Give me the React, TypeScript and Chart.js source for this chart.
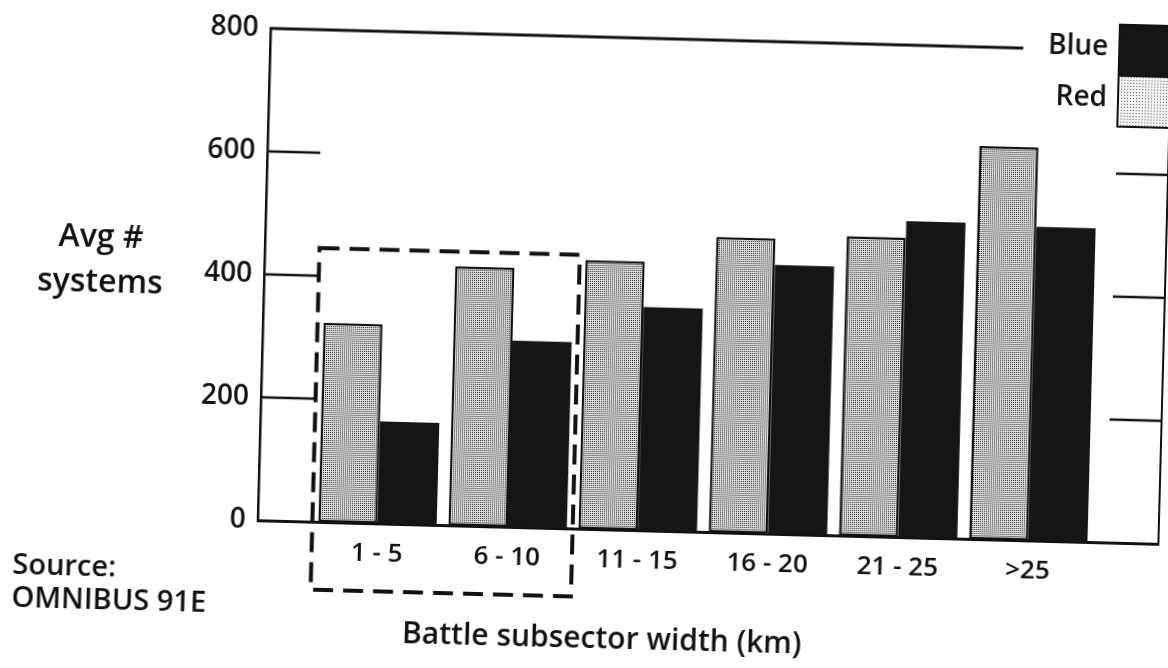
import React, { useEffect, useRef } from "react";
import { Chart, registerables } from "chart.js";

Chart.register(...registerables);

// ---- data ----
const categories = ["1 - 5", "6 - 10", "11 - 15", "16 - 20", "21 - 25", ">25"];
const redValues = [324, 421, 437, 480, 487, 639];
const blueValues = [166, 303, 363, 437, 514, 510];
const yTicks = [0, 200, 400, 600, 800];
const seriesNames = ["Red", "Blue"];
const highlightCategories = [0, 1]; // the dashed box around 1-5 and 6-10
const highlightTop = 445;

const FONT = "'Open Sans', 'Noto Sans', 'DejaVu Sans', sans-serif";
const WEIGHT = 600;
const INK = "#111111";
const W = 1168;
const H = 668;

function makeStipple(tile: number, bg: string, dot: string): CanvasPattern | string {
  const c = document.createElement("canvas");
  c.width = tile;
  c.height = tile;
  const g = c.getContext("2d");
  if (!g) return "#c4c4c4";
  g.fillStyle = bg;
  g.fillRect(0, 0, tile, tile);
  g.fillStyle = dot;
  g.fillRect(0, 0, 1, 1);
  return g.createPattern(c, "repeat") ?? "#c4c4c4";
}

const framePlugin = {
  id: "frame",
  afterDatasetsDraw(chart: any) {
    const { ctx, chartArea: a, scales } = chart;
    const x = scales.x;
    const y = scales.y;
    const topY = y.getPixelForValue(yTicks[yTicks.length - 1]);
    const legendLeft = a.right - 52;
    const legendTop = topY - 26;
    const rowH = 51;
    const legendBottom = legendTop + rowH * 2;

    ctx.save();
    ctx.strokeStyle = INK;
    ctx.lineCap = "butt";

    // top border (interrupted by legend)
    ctx.lineWidth = 3;
    ctx.beginPath();
    ctx.moveTo(a.left - 1, topY);
    ctx.lineTo(a.right - 148, topY);
    ctx.stroke();

    // right border
    ctx.lineWidth = 2;
    ctx.beginPath();
    ctx.moveTo(a.right, legendBottom);
    ctx.lineTo(a.right, a.bottom + 1);
    ctx.stroke();

    // inward ticks on both sides
    ctx.lineWidth = 2.5;
    yTicks
      .filter((v) => v > yTicks[0] && v < yTicks[yTicks.length - 1])
      .forEach((v) => {
        const py = y.getPixelForValue(v);
        ctx.beginPath();
        ctx.moveTo(a.left, py);
        ctx.lineTo(a.left + 53, py);
        ctx.moveTo(a.right - 52, py);
        ctx.lineTo(a.right, py);
        ctx.stroke();
      });

    // dashed highlight box
    const x0 = x.getPixelForValue(highlightCategories[0] - 0.5);
    const x1 = x.getPixelForValue(highlightCategories[highlightCategories.length - 1] + 0.5);
    const y0 = y.getPixelForValue(highlightTop);
    const y1 = a.bottom + 68;
    ctx.setLineDash([20, 10]);
    ctx.lineWidth = 4;
    ctx.strokeRect(x0, y0, x1 - x0, y1 - y0);
    ctx.setLineDash([]);

    // legend: Blue above Red
    const ds = chart.data.datasets;
    const order = [ds[1], ds[0]];
    ctx.font = `${WEIGHT} 28px ${FONT}`;
    ctx.textAlign = "right";
    ctx.textBaseline = "alphabetic";
    order.forEach((d: any, i: number) => {
      const by = legendTop + i * rowH;
      ctx.fillStyle = d.legendFill;
      ctx.fillRect(legendLeft, by, W - legendLeft, rowH);
      ctx.lineWidth = 2;
      ctx.strokeStyle = INK;
      ctx.strokeRect(legendLeft, by, W - legendLeft + 4, rowH);
      ctx.fillStyle = INK;
      ctx.fillText(d.label, legendLeft - 11, by + 31);
    });
    ctx.restore();
  },
};

export default function App() {
  const canvasRef = useRef<HTMLCanvasElement | null>(null);

  useEffect(() => {
    const canvas = canvasRef.current;
    if (!canvas) return;
    const redFill = makeStipple(2, "#e2e2e2", "#1c1c1c");
    const redLegendFill = makeStipple(3, "#f4f4f4", "#555555");
    const blueFill = "#151515";

    const chart = new Chart(canvas, {
      type: "bar",
      data: {
        datasets: [
          {
            label: seriesNames[0],
            data: redValues.map((v, i) => ({ x: i, y: v })),
            backgroundColor: redFill as any,
            borderColor: INK,
            borderWidth: 2.5,
            borderSkipped: false,
            legendFill: redLegendFill,
          } as any,
          {
            label: seriesNames[1],
            data: blueValues.map((v, i) => ({ x: i, y: v })),
            backgroundColor: blueFill,
            borderWidth: 0,
            legendFill: blueFill,
          } as any,
        ],
      },
      options: {
        animation: false,
        responsive: false,
        maintainAspectRatio: false,
        layout: { padding: { left: 204, right: 3, top: 40, bottom: 86 } },
        datasets: { bar: { barPercentage: 1, categoryPercentage: 0.91 } },
        plugins: {
          legend: { display: false },
          tooltip: { enabled: false },
          title: { display: false },
        },
        scales: {
          x: {
            type: "linear",
            min: -0.92,
            max: 6.0,
            offset: false,
            afterBuildTicks: (s: any) => {
              s.ticks = categories.map((_, i) => ({ value: i }));
            },
            afterFit: (s: any) => {
              s.height = 50;
            },
            ticks: {
              callback: (v: any) => categories[v] ?? "",
              font: { family: FONT, size: 26, weight: WEIGHT },
              color: INK,
              padding: 15,
              maxRotation: 0,
              autoSkip: false,
            },
            grid: { display: false, drawTicks: false },
            border: { display: true, color: INK, width: 3 },
          },
          y: {
            min: yTicks[0],
            max: yTicks[yTicks.length - 1],
            afterBuildTicks: (s: any) => {
              s.ticks = yTicks.map((v) => ({ value: v }));
            },
            afterFit: (s: any) => {
              s.width = 60;
            },
            ticks: {
              font: { family: FONT, size: 28, weight: WEIGHT },
              color: INK,
              padding: 12,
            },
            grid: { display: false, drawTicks: false },
            border: { display: true, color: INK, width: 2.5 },
          },
        },
      } as any,
      plugins: [framePlugin],
    });
    return () => chart.destroy();
  }, []);

  const textBase: React.CSSProperties = {
    position: "absolute",
    fontFamily: FONT,
    fontWeight: WEIGHT,
    color: INK,
    whiteSpace: "nowrap",
  };

  return (
    <div
      style={{
        position: "fixed",
        left: 0,
        top: 0,
        width: W,
        height: H,
        transform: "rotate(1.5deg)",
        transformOrigin: "710px 285px",
      }}
    >
      <canvas ref={canvasRef} width={W} height={H} style={{ width: W, height: H, display: "block" }} />
      <div
        style={{
          ...textBase,
          left: 0,
          width: 200,
          top: 228,
          fontSize: 32,
          lineHeight: "45px",
          textAlign: "center",
        }}
      >
        Avg #
        <br />
        systems
      </div>
      <div
        style={{
          ...textBase,
          left: 20,
          top: 564,
          fontSize: 29,
          lineHeight: "33px",
        }}
      >
        Source:
        <br />
        OMNIBUS 91E
      </div>
      <div
        style={{
          ...textBase,
          left: 311,
          width: 600,
          top: 620,
          fontSize: 30,
          lineHeight: "40px",
          textAlign: "center",
        }}
      >
        Battle subsector width (km)
      </div>
    </div>
  );
}
